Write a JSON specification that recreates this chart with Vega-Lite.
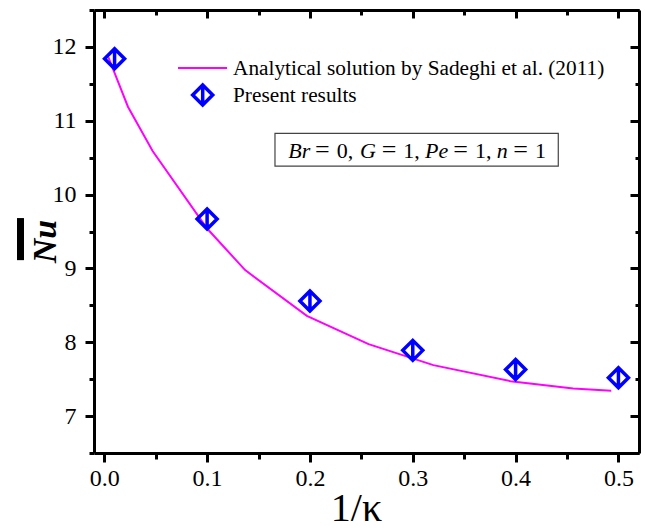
{
  "$schema": "https://vega.github.io/schema/vega-lite/v6.json",
  "width": 545,
  "height": 443,
  "autosize": {"type": "none"},
  "padding": {"left": 94, "top": 10, "right": 6, "bottom": 77},
  "background": "white",
  "config": {
    "view": {"stroke": null},
    "font": "Liberation Serif",
    "axis": {"labelFont": "Liberation Serif", "titleFont": "Liberation Serif"},
    "text": {"font": "Liberation Serif", "fontSize": 21, "color": "black", "align": "left", "baseline": "alphabetic"}
  },
  "datasets": {
    "analytical": [
      {"inv_kappa": 0.004, "Nu": 11.86},
      {"inv_kappa": 0.023, "Nu": 11.19},
      {"inv_kappa": 0.047, "Nu": 10.59},
      {"inv_kappa": 0.1, "Nu": 9.54},
      {"inv_kappa": 0.137, "Nu": 8.977},
      {"inv_kappa": 0.197, "Nu": 8.358},
      {"inv_kappa": 0.257, "Nu": 7.974},
      {"inv_kappa": 0.32, "Nu": 7.69},
      {"inv_kappa": 0.395, "Nu": 7.473},
      {"inv_kappa": 0.456, "Nu": 7.374},
      {"inv_kappa": 0.493, "Nu": 7.342}
    ],
    "present": [
      {"inv_kappa": 0.01, "Nu": 11.84},
      {"inv_kappa": 0.1, "Nu": 9.67},
      {"inv_kappa": 0.2, "Nu": 8.56},
      {"inv_kappa": 0.3, "Nu": 7.89},
      {"inv_kappa": 0.4, "Nu": 7.63},
      {"inv_kappa": 0.5, "Nu": 7.52}
    ],
    "single": [{}]
  },
  "layer": [
    {
      "data": {"name": "analytical"},
      "mark": {"type": "line", "color": "#FF00FF", "strokeWidth": 2},
      "encoding": {
        "x": {
          "field": "inv_kappa", "type": "quantitative",
          "scale": {"domain": [-0.01, 0.52], "nice": false, "zero": false},
          "axis": {
            "orient": "bottom",
            "values": [0, 0.05, 0.1, 0.15, 0.2, 0.25, 0.3, 0.35, 0.4, 0.45, 0.5],
            "labelExpr": "abs(datum.value*10 - round(datum.value*10)) < 0.001 ? format(datum.value, '.1f') : ''",
            "labelFontSize": 24, "labelColor": "black", "labelPadding": 4,
            "labelOverlap": false, "labelFlush": false,
            "domainColor": "black", "domainWidth": 3,
            "tickColor": "black", "tickWidth": 3,
            "tickSize": {"condition": {"test": "abs(datum.value*10 - round(datum.value*10)) > 0.001", "value": 6}, "value": 9},
            "grid": false,
            "title": "1/κ", "titleFontSize": 40, "titleFontWeight": "normal", "titleColor": "black",
            "titleX": 262, "titleY": 67, "titleBaseline": "alphabetic", "titleAlign": "center"
          }
        },
        "y": {
          "field": "Nu", "type": "quantitative",
          "scale": {"domain": [6.5, 12.5], "nice": false, "zero": false},
          "axis": {
            "orient": "left",
            "values": [6.5, 7, 7.5, 8, 8.5, 9, 9.5, 10, 10.5, 11, 11.5, 12, 12.5],
            "labelExpr": "datum.value % 1 == 0 ? format(datum.value, 'd') : ''",
            "labelFontSize": 24, "labelColor": "black", "labelPadding": 9,
            "labelOverlap": false, "labelFlush": false,
            "domainColor": "black", "domainWidth": 3,
            "tickColor": "black", "tickWidth": 3,
            "tickSize": {"condition": {"test": "datum.value % 1 != 0", "value": 5}, "value": 9},
            "grid": false,
            "title": "Nu", "titleFontSize": 34, "titleFontWeight": "bold", "titleFontStyle": "italic", "titleColor": "black",
            "titleAngle": 270, "titleX": -39, "titleY": 231, "titleBaseline": "alphabetic", "titleAlign": "center"
          }
        }
      }
    },
    {
      "data": {"name": "present"},
      "mark": {"type": "point", "shape": "M0,-1L1,0L0,1L-1,0ZM0,-1L0,1", "filled": false, "stroke": "#0000FF", "strokeWidth": 3.5, "size": 400, "opacity": 1},
      "encoding": {
        "x": {
          "field": "inv_kappa", "type": "quantitative",
          "scale": {"domain": [-0.01, 0.52], "nice": false, "zero": false},
          "axis": {
            "orient": "top",
            "values": [0, 0.05, 0.1, 0.15, 0.2, 0.25, 0.3, 0.35, 0.4, 0.45, 0.5],
            "labels": false, "title": null, "grid": false,
            "domainColor": "black", "domainWidth": 3,
            "tickColor": "black", "tickWidth": 3,
            "tickSize": {"condition": {"test": "abs(datum.value*10 - round(datum.value*10)) > 0.001", "value": -5}, "value": -8}
          }
        },
        "y": {
          "field": "Nu", "type": "quantitative",
          "scale": {"domain": [6.5, 12.5], "nice": false, "zero": false},
          "axis": {
            "orient": "right",
            "values": [6.5, 7, 7.5, 8, 8.5, 9, 9.5, 10, 10.5, 11, 11.5, 12, 12.5],
            "labels": false, "title": null, "grid": false,
            "domainColor": "black", "domainWidth": 3,
            "tickColor": "black", "tickWidth": 3,
            "tickSize": {"condition": {"test": "datum.value % 1 != 0", "value": -4}, "value": -9}
          }
        }
      }
    },
    {
      "data": {"name": "single"},
      "mark": {"type": "rect", "fill": "black"},
      "encoding": {
        "x": {"datum": -0.0849, "type": "quantitative", "scale": {"domain": [-0.01, 0.52], "nice": false, "zero": false}, "axis": null},
        "x2": {"datum": -0.0781},
        "y": {"datum": 9.682, "type": "quantitative", "scale": {"domain": [6.5, 12.5], "nice": false, "zero": false}, "axis": null},
        "y2": {"datum": 9.112}
      }
    },
    {
      "data": {"name": "single"},
      "mark": {"type": "rule", "color": "#FF00FF", "strokeWidth": 2},
      "encoding": {
        "x": {"datum": 0.0717, "type": "quantitative", "scale": {"domain": [-0.01, 0.52], "nice": false, "zero": false}, "axis": null},
        "x2": {"datum": 0.1194},
        "y": {"datum": 11.714, "type": "quantitative", "scale": {"domain": [6.5, 12.5], "nice": false, "zero": false}, "axis": null}
      }
    },
    {
      "data": {"name": "single"},
      "mark": {"type": "point", "shape": "M0,-1L1,0L0,1L-1,0ZM0,-1L0,1", "filled": false, "stroke": "#0000FF", "strokeWidth": 3.5, "size": 400, "opacity": 1},
      "encoding": {
        "x": {"datum": 0.0957, "type": "quantitative", "scale": {"domain": [-0.01, 0.52], "nice": false, "zero": false}, "axis": null},
        "y": {"datum": 11.348, "type": "quantitative", "scale": {"domain": [6.5, 12.5], "nice": false, "zero": false}, "axis": null}
      }
    },
    {
      "data": {"name": "single"},
      "mark": {"type": "text", "text": "Analytical solution by Sadeghi et al. (2011)", "fontSize": 21.3},
      "encoding": {
        "x": {"datum": 0.1252, "type": "quantitative", "scale": {"domain": [-0.01, 0.52], "nice": false, "zero": false}, "axis": null},
        "y": {"datum": 11.619, "type": "quantitative", "scale": {"domain": [6.5, 12.5], "nice": false, "zero": false}, "axis": null}
      }
    },
    {
      "data": {"name": "single"},
      "mark": {"type": "text", "text": "Present results", "fontSize": 21.3},
      "encoding": {
        "x": {"datum": 0.1252, "type": "quantitative", "scale": {"domain": [-0.01, 0.52], "nice": false, "zero": false}, "axis": null},
        "y": {"datum": 11.257, "type": "quantitative", "scale": {"domain": [6.5, 12.5], "nice": false, "zero": false}, "axis": null}
      }
    },
    {
      "data": {"name": "single"},
      "mark": {"type": "rect", "fill": "white", "stroke": "#444444", "strokeWidth": 1.2},
      "encoding": {
        "x": {"datum": 0.166, "type": "quantitative", "scale": {"domain": [-0.01, 0.52], "nice": false, "zero": false}, "axis": null},
        "x2": {"datum": 0.4415},
        "y": {"datum": 10.829, "type": "quantitative", "scale": {"domain": [6.5, 12.5], "nice": false, "zero": false}, "axis": null},
        "y2": {"datum": 10.386}
      }
    },
    {
      "data": {"name": "single"},
      "mark": {"type": "text", "text": "Br", "fontStyle": "italic", "fontSize": 22},
      "encoding": {
        "x": {"datum": 0.179, "type": "quantitative", "scale": {"domain": [-0.01, 0.52], "nice": false, "zero": false}, "axis": null},
        "y": {"datum": 10.49, "type": "quantitative", "scale": {"domain": [6.5, 12.5], "nice": false, "zero": false}, "axis": null}
      }
    },
    {
      "data": {"name": "single"},
      "mark": {"type": "text", "text": "=", "fontSize": 26},
      "encoding": {
        "x": {"datum": 0.2049, "type": "quantitative", "scale": {"domain": [-0.01, 0.52], "nice": false, "zero": false}, "axis": null},
        "y": {"datum": 10.49, "type": "quantitative", "scale": {"domain": [6.5, 12.5], "nice": false, "zero": false}, "axis": null}
      }
    },
    {
      "data": {"name": "single"},
      "mark": {"type": "text", "text": "0,", "fontSize": 22},
      "encoding": {
        "x": {"datum": 0.226, "type": "quantitative", "scale": {"domain": [-0.01, 0.52], "nice": false, "zero": false}, "axis": null},
        "y": {"datum": 10.49, "type": "quantitative", "scale": {"domain": [6.5, 12.5], "nice": false, "zero": false}, "axis": null}
      }
    },
    {
      "data": {"name": "single"},
      "mark": {"type": "text", "text": "G", "fontStyle": "italic", "fontSize": 22},
      "encoding": {
        "x": {"datum": 0.2487, "type": "quantitative", "scale": {"domain": [-0.01, 0.52], "nice": false, "zero": false}, "axis": null},
        "y": {"datum": 10.49, "type": "quantitative", "scale": {"domain": [6.5, 12.5], "nice": false, "zero": false}, "axis": null}
      }
    },
    {
      "data": {"name": "single"},
      "mark": {"type": "text", "text": "=", "fontSize": 26},
      "encoding": {
        "x": {"datum": 0.2698, "type": "quantitative", "scale": {"domain": [-0.01, 0.52], "nice": false, "zero": false}, "axis": null},
        "y": {"datum": 10.49, "type": "quantitative", "scale": {"domain": [6.5, 12.5], "nice": false, "zero": false}, "axis": null}
      }
    },
    {
      "data": {"name": "single"},
      "mark": {"type": "text", "text": "1,", "fontSize": 22},
      "encoding": {
        "x": {"datum": 0.2908, "type": "quantitative", "scale": {"domain": [-0.01, 0.52], "nice": false, "zero": false}, "axis": null},
        "y": {"datum": 10.49, "type": "quantitative", "scale": {"domain": [6.5, 12.5], "nice": false, "zero": false}, "axis": null}
      }
    },
    {
      "data": {"name": "single"},
      "mark": {"type": "text", "text": "Pe", "fontStyle": "italic", "fontSize": 22},
      "encoding": {
        "x": {"datum": 0.3119, "type": "quantitative", "scale": {"domain": [-0.01, 0.52], "nice": false, "zero": false}, "axis": null},
        "y": {"datum": 10.49, "type": "quantitative", "scale": {"domain": [6.5, 12.5], "nice": false, "zero": false}, "axis": null}
      }
    },
    {
      "data": {"name": "single"},
      "mark": {"type": "text", "text": "=", "fontSize": 26},
      "encoding": {
        "x": {"datum": 0.3394, "type": "quantitative", "scale": {"domain": [-0.01, 0.52], "nice": false, "zero": false}, "axis": null},
        "y": {"datum": 10.49, "type": "quantitative", "scale": {"domain": [6.5, 12.5], "nice": false, "zero": false}, "axis": null}
      }
    },
    {
      "data": {"name": "single"},
      "mark": {"type": "text", "text": "1,", "fontSize": 22},
      "encoding": {
        "x": {"datum": 0.3605, "type": "quantitative", "scale": {"domain": [-0.01, 0.52], "nice": false, "zero": false}, "axis": null},
        "y": {"datum": 10.49, "type": "quantitative", "scale": {"domain": [6.5, 12.5], "nice": false, "zero": false}, "axis": null}
      }
    },
    {
      "data": {"name": "single"},
      "mark": {"type": "text", "text": "n", "fontStyle": "italic", "fontSize": 22},
      "encoding": {
        "x": {"datum": 0.3816, "type": "quantitative", "scale": {"domain": [-0.01, 0.52], "nice": false, "zero": false}, "axis": null},
        "y": {"datum": 10.49, "type": "quantitative", "scale": {"domain": [6.5, 12.5], "nice": false, "zero": false}, "axis": null}
      }
    },
    {
      "data": {"name": "single"},
      "mark": {"type": "text", "text": "=", "fontSize": 26},
      "encoding": {
        "x": {"datum": 0.3978, "type": "quantitative", "scale": {"domain": [-0.01, 0.52], "nice": false, "zero": false}, "axis": null},
        "y": {"datum": 10.49, "type": "quantitative", "scale": {"domain": [6.5, 12.5], "nice": false, "zero": false}, "axis": null}
      }
    },
    {
      "data": {"name": "single"},
      "mark": {"type": "text", "text": "1", "fontSize": 22},
      "encoding": {
        "x": {"datum": 0.4189, "type": "quantitative", "scale": {"domain": [-0.01, 0.52], "nice": false, "zero": false}, "axis": null},
        "y": {"datum": 10.49, "type": "quantitative", "scale": {"domain": [6.5, 12.5], "nice": false, "zero": false}, "axis": null}
      }
    }
  ],
  "resolve": {"axis": {"x": "independent", "y": "independent"}}
}
